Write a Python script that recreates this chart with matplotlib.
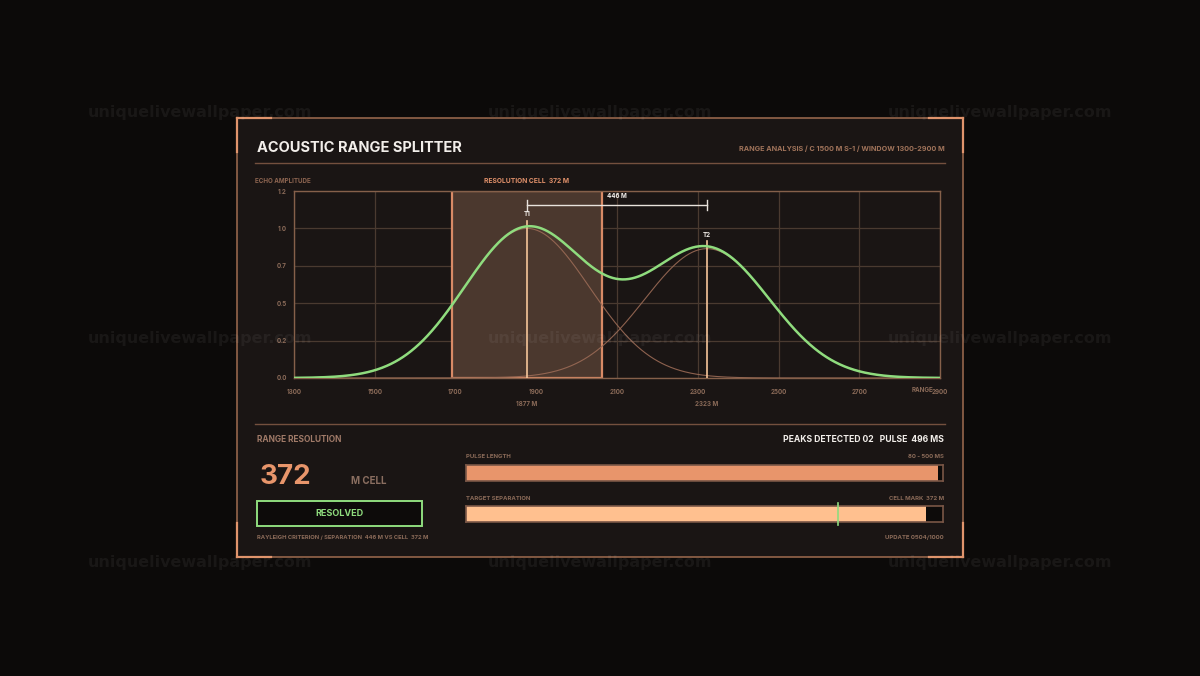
import numpy as np
import matplotlib
matplotlib.use("Agg")
import matplotlib.pyplot as plt
from matplotlib.patches import Rectangle

# --- data ---
range_min, range_max = 1300, 2900
x_ticks = [1300, 1500, 1700, 1900, 2100, 2300, 2500, 2700, 2900]
y_ticks = [0.0, 0.24, 0.48, 0.72, 0.96, 1.2]
target_names = ["T1", "T2"]
target_ranges = [1877, 2323]
target_amps = [0.96, 0.83]
cell_width = 372          # m
echo_sigma = 155          # m, echo width
separation = 446          # m
pulse_ms = 496
pulse_scale = [80, 500]
sep_scale = [60, 460]
update_no = "0504/1000"

W, H = 1200, 676
BG = "#0c0a09"
PANEL = "#1a1514"
GRID = "#4a3a30"
FRAME = "#85604a"
TICK = "#8a6a58"
ORANGE = "#e8956b"
PEACH = "#ffc08f"
GREEN = "#8fdc7e"
WHITE = "#f2eeea"
FONT = ["Inter", "DejaVu Sans"]

plt.rcParams["font.family"] = FONT
plt.rcParams["font.weight"] = "bold"

fig = plt.figure(figsize=(W / 100, H / 100), dpi=100, facecolor=BG)


def fx(x):
    return x / W


def fy(y):
    return 1 - y / H


def box(x0, y0, x1, y1):
    return [fx(x0), fy(y1), fx(x1) - fx(x0), fy(y0) - fy(y1)]


def txt(x, y, s, size, color, ha="left", **kw):
    fig.text(fx(x), fy(y), s, fontsize=size, color=color, ha=ha, va="center",
             fontweight="bold", zorder=5, **kw)


# panel (behind everything)
fig.patches.append(Rectangle((fx(237), fy(557)), fx(963) - fx(237), fy(118) - fy(557),
                             transform=fig.transFigure, facecolor=PANEL,
                             edgecolor="#a06c50", lw=1.1, zorder=-10))
acc = 34
for (cx, cy, dx, dy) in [(237, 118, 1, 1), (963, 118, -1, 1), (237, 557, 1, -1), (963, 557, -1, -1)]:
    fig.lines.append(plt.Line2D([fx(cx), fx(cx + dx * acc)], [fy(cy), fy(cy)],
                                transform=fig.transFigure, color="#e0946c", lw=1.6, zorder=-5))
    fig.lines.append(plt.Line2D([fx(cx), fx(cx)], [fy(cy), fy(cy + dy * acc)],
                                transform=fig.transFigure, color="#e0946c", lw=1.6, zorder=-5))

# watermark
for wy in [113, 338, 563]:
    for wx in [200, 600, 1000]:
        fig.text(fx(wx), fy(wy), "uniquelivewallpaper.com", fontsize=11.5,
                 color="white", alpha=0.055, ha="center", va="center",
                 fontweight="bold", family=["DejaVu Sans"], zorder=10)

# header
txt(257, 148, "ACOUSTIC RANGE SPLITTER", 10.5, WHITE)
txt(945, 149, "RANGE ANALYSIS / C 1500 M S-1 / WINDOW 1300-2900 M", 5.2, "#a0735a", ha="right")
for ly in [163, 424]:
    fig.lines.append(plt.Line2D([fx(255), fx(945)], [fy(ly), fy(ly)],
                                transform=fig.transFigure, color="#74503e", lw=1.0, zorder=-5))

# main chart
ax = fig.add_axes(box(294, 191, 940, 378))
ax.set_facecolor(PANEL)
ax.set_xlim(range_min, range_max)
ax.set_ylim(0, 1.2)
ax.set_xticks(x_ticks)
ax.set_yticks(y_ticks)
ax.set_xticklabels([str(v) for v in x_ticks])
ax.set_yticklabels([f"{v:.1f}" for v in y_ticks])
ax.tick_params(axis="x", length=0, labelsize=4.5, labelcolor=TICK, pad=8)
ax.tick_params(axis="y", length=0, labelsize=4.5, labelcolor=TICK, pad=5)
ax.grid(True, color=GRID, lw=0.9)
ax.set_axisbelow(True)
for s in ax.spines.values():
    s.set_color(FRAME)
    s.set_linewidth(1.0)

t1, t2 = target_ranges
ax.add_patch(Rectangle((t1 - cell_width / 2, 0), cell_width, 1.2, facecolor="#4b382e",
                       edgecolor="#d88a66", lw=1.6, zorder=2))

xs = np.linspace(range_min, range_max, 800)
comps = [a * np.exp(-(xs - r) ** 2 / (2 * echo_sigma ** 2)) for r, a in zip(target_ranges, target_amps)]
for c in comps:
    ax.plot(xs, c, color="#9a6a55", lw=0.8, alpha=0.9, zorder=3)
ax.plot(xs, comps[0] + comps[1], color=GREEN, lw=1.8, zorder=5)

for name, r, a in zip(target_names, target_ranges, target_amps):
    ax.plot([r, r], [0, a + 0.05], color="#f5c59a", lw=1.2, zorder=4)
    ax.text(r, a + 0.09, name, color=WHITE, fontsize=4.5, ha="center", va="center", fontweight="bold")
    ax.text(r, -0.165, f"{r} M", color=TICK, fontsize=4.5, ha="center", va="center",
            fontweight="bold", clip_on=False)

# separation bracket
by = 1.11
ax.plot([t1, t2], [by, by], color="#e8e2dc", lw=1.0, zorder=6)
for r in [t1, t2]:
    ax.plot([r, r], [by - 0.035, by + 0.035], color="#e8e2dc", lw=1.0, zorder=6)
ax.text((t1 + t2) / 2, 1.17, f"{separation} M", color=WHITE, fontsize=4.5, ha="center",
        va="center", fontweight="bold")

txt(933, 390.5, "RANGE", 4.5, TICK, ha="right")
txt(255, 181, "ECHO AMPLITUDE", 4.5, "#8c6450")
txt(527, 181, f"RESOLUTION CELL  {cell_width} M", 4.8, "#e0906a", ha="center")

# bottom left
txt(257, 440, "RANGE RESOLUTION", 6.0, "#a07a68")
txt(260, 477, str(cell_width), 20, ORANGE)
txt(351, 481, "M CELL", 7.0, "#8a6e60")
fig.patches.append(Rectangle((fx(257), fy(526)), fx(422) - fx(257), fy(501) - fy(526),
                             transform=fig.transFigure, facecolor="#0d0b0a",
                             edgecolor=GREEN, lw=1.4, zorder=1))
txt(339.5, 514, "RESOLVED", 6.5, GREEN, ha="center")
txt(257, 537, f"RAYLEIGH CRITERION / SEPARATION  {separation} M VS CELL  {cell_width} M", 4.2, "#8a6a58")

# bottom right
txt(944, 440, f"PEAKS DETECTED 02   PULSE  {pulse_ms} MS", 6.2, WHITE, ha="right")
txt(466, 457, "PULSE LENGTH", 4.3, "#8a6a58")
txt(944, 457, f"{pulse_scale[0]} - {pulse_scale[1]} MS", 4.3, "#8a6a58", ha="right")
txt(466, 498, "TARGET SEPARATION", 4.3, "#8a6a58")
txt(944, 498, f"CELL MARK  {cell_width} M", 4.3, "#8a6a58", ha="right")
txt(944, 537, f"UPDATE {update_no}", 4.3, "#8a6a58", ha="right")

bar1 = fig.add_axes(box(466, 465, 943, 481))
bar1.set_xlim(*pulse_scale)
bar1.set_ylim(-0.5, 0.5)
bar1.barh(0, pulse_ms - pulse_scale[0], left=pulse_scale[0], height=1, color=ORANGE)

bar2 = fig.add_axes(box(466, 506, 943, 522))
bar2.set_xlim(*sep_scale)
bar2.set_ylim(-0.5, 0.5)
bar2.barh(0, separation - sep_scale[0], left=sep_scale[0], height=1, color=PEACH)
bar2.plot([cell_width, cell_width], [-0.7, 0.7], color=GREEN, lw=1.2, clip_on=False, zorder=5)

for b in [bar1, bar2]:
    b.set_facecolor("#0d0b0a")
    b.set_xticks([])
    b.set_yticks([])
    for s in b.spines.values():
        s.set_color("#7a5646")
        s.set_linewidth(1.2)

fig.savefig("out.png", dpi=100, facecolor=BG)
